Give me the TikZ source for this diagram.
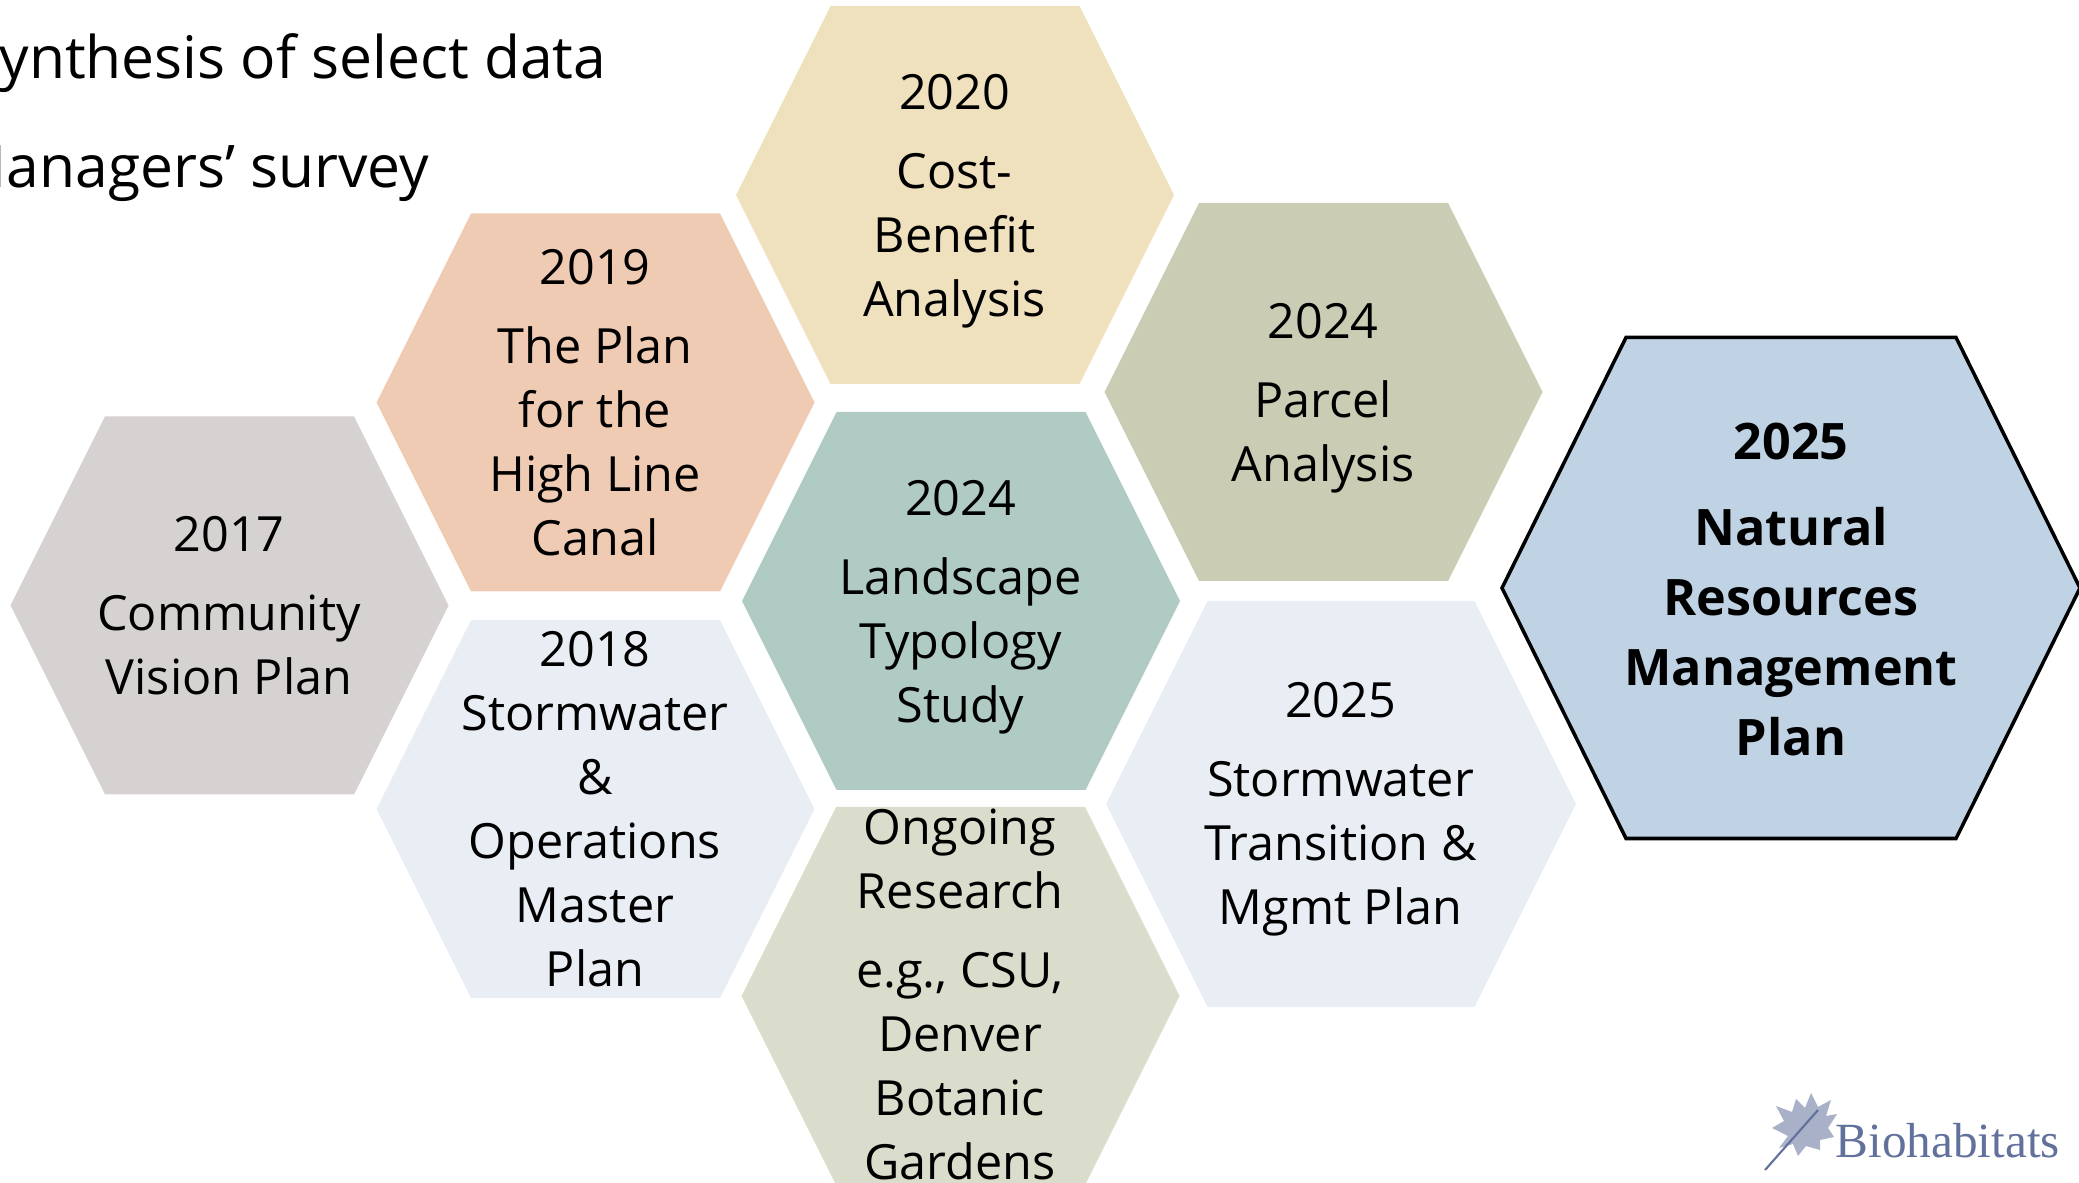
\documentclass[tikz,border=0pt]{standalone}
\usepackage{fontspec}
\setmainfont{Open Sans}
\newfontfamily\logofont{Liberation Serif}

\definecolor{hexgray}{RGB}{214,210,209}
\definecolor{hexpeach}{RGB}{240,203,180}
\definecolor{hexpale}{RGB}{233,238,245}
\definecolor{hexcream}{RGB}{239,225,190}
\definecolor{hexteal}{RGB}{176,202,196}
\definecolor{hexmoss}{RGB}{218,221,204}
\definecolor{hexsage}{RGB}{202,205,179}
\definecolor{hexblue}{RGB}{192,211,228}
\definecolor{logoblue}{RGB}{98,113,156}

\begin{document}
\begin{tikzpicture}[x=0.01cm,y=0.01cm]
\tikzset{hextext/.style={align=center, inner sep=0pt, text depth=0pt,
  font=\fontsize{13.8}{18.2}\selectfont},
  goaltext/.style={align=center, inner sep=0pt, text depth=0pt,
  font=\bfseries\fontsize{14.3}{19.9}\selectfont},
  headtext/.style={anchor=base east, inner sep=0pt, font=\fontsize{16.7}{20}\selectfont}}
\useasboundingbox (0,0) rectangle (2079,-1183);
\clip (0,0) rectangle (2079,-1183);

% heading lines, cut at the left edge
\node (head1) [headtext] at (607,-78.5) {Synthesis of select data};
\node (head2) [headtext] at (430,-187.5) {Managers’ survey};

% hexagons
\fill [hexgray] (10.5,-605.5) -- ++(94.5,189) -- ++(249,0) -- ++(94.5,-189) -- ++(-94.5,-189) -- ++(-249,0) -- cycle;
\fill [hexpeach] (376.5,-402.5) -- ++(94.5,189) -- ++(249,0) -- ++(94.5,-189) -- ++(-94.5,-189) -- ++(-249,0) -- cycle;
\fill [hexpale] (376.5,-809) -- ++(94.5,189) -- ++(249,0) -- ++(94.5,-189) -- ++(-94.5,-189) -- ++(-249,0) -- cycle;
\fill [hexcream] (736,-195) -- ++(94.5,189) -- ++(249,0) -- ++(94.5,-189) -- ++(-94.5,-189) -- ++(-249,0) -- cycle;
\fill [hexteal] (742,-601) -- ++(94.5,189) -- ++(249,0) -- ++(94.5,-189) -- ++(-94.5,-189) -- ++(-249,0) -- cycle;
\fill [hexmoss] (741.5,-996) -- ++(94.5,189) -- ++(249,0) -- ++(94.5,-189) -- ++(-94.5,-189) -- ++(-249,0) -- cycle;
\fill [hexsage] (1104.5,-392) -- ++(94.5,189) -- ++(249,0) -- ++(94.5,-189) -- ++(-94.5,-189) -- ++(-249,0) -- cycle;
\fill [hexpale] (1106,-804) -- ++(101.5,203) -- ++(267,0) -- ++(101.5,-203) -- ++(-101.5,-203) -- ++(-267,0) -- cycle;
\draw [black, line width=1pt, fill=hexblue] (1502,-588) -- ++(124,250.5) -- ++(330,0) -- ++(124,-250.5) -- ++(-124,-250.5) -- ++(-330,0) -- cycle;

% texts
\node (p2017) [hextext] at (229,-605.5) {2017\\[4.3pt] Community\\ Vision Plan};
\node (p2019) [hextext] at (595,-402.5) {2019\\[4.3pt] The Plan\\ for the\\ High Line\\ Canal};
\node (p2018) [hextext] at (595,-809) {2018\\ Stormwater\\ \&\\ Operations\\ Master\\ Plan};
\node (p2020) [hextext] at (954.5,-195) {2020\\[4.3pt] Cost-\\ Benefit\\ Analysis};
\node (p2024a) [hextext] at (960.5,-601) {2024\\[4.3pt] Landscape\\ Typology\\ Study};
\node (pongo) [hextext] at (960,-994) {Ongoing\\ Research\\[4.3pt] e.g., CSU,\\ Denver\\ Botanic\\ Gardens};
\node (p2024b) [hextext] at (1323,-392) {2024\\[4.3pt] Parcel\\ Analysis};
\node (p2025a) [hextext] at (1340.5,-803) {2025\\[4.3pt] Stormwater\\ Transition \&\\ Mgmt Plan};
\node (p2025b) [goaltext] at (1791,-589) {2025\\[4.6pt] Natural\\ Resources\\ Management\\ Plan};

% logo
\fill [logoblue!55] (1788,-1136) -- (1772,-1128) -- (1784,-1121) -- (1776,-1106) -- (1792,-1112)
  -- (1796,-1099) -- (1805,-1108) -- (1811,-1093) -- (1818,-1107) -- (1831,-1100) -- (1826,-1116)
  -- (1837,-1114) -- (1828,-1128) -- (1834,-1137) -- (1820,-1140) -- (1820,-1150) -- (1806,-1146)
  -- (1798,-1156) -- (1793,-1144) -- (1779,-1148) -- cycle;
\draw [logoblue, line width=0.6pt] (1765,-1170) -- (1818,-1110);
\node (logo) [anchor=base west, inner sep=0pt, text=logoblue, font=\logofont\fontsize{14}{16}\selectfont] at (1835,-1157) {Biohabitats};
\end{tikzpicture}
\end{document}
